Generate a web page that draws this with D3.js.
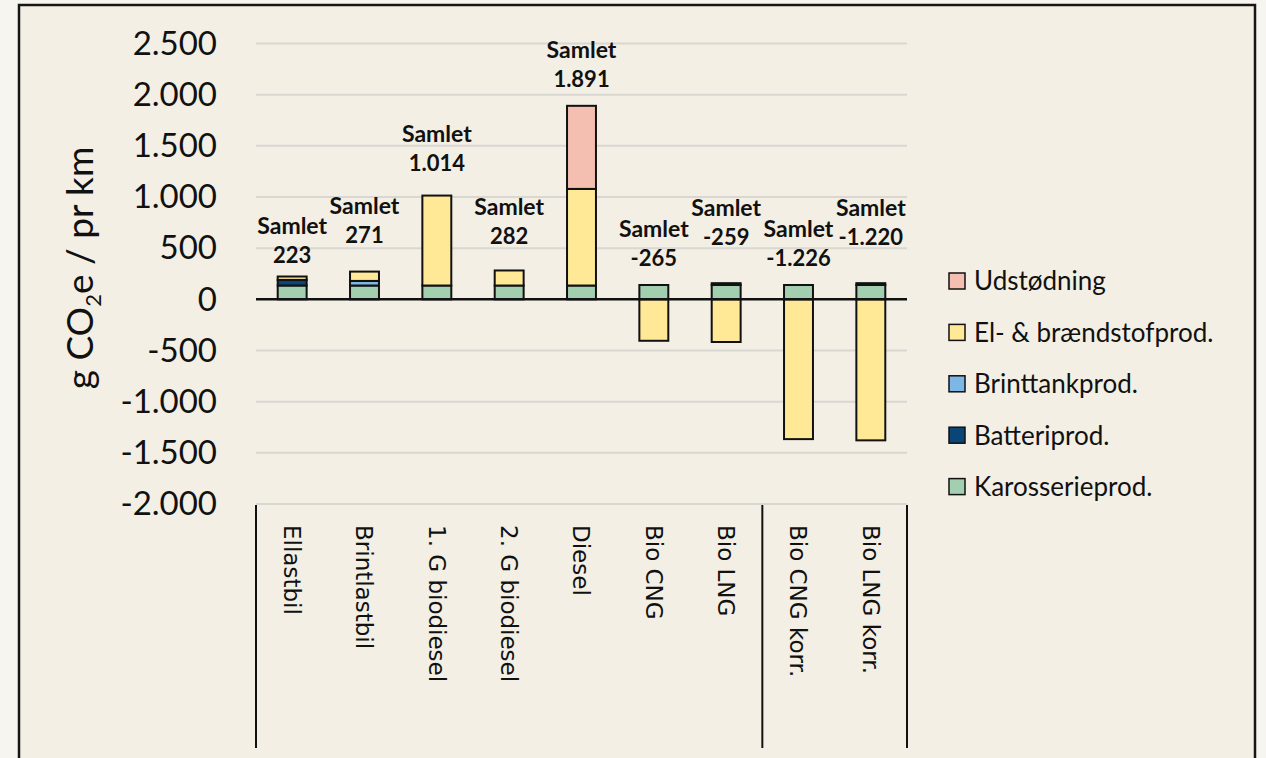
<!DOCTYPE html>
<html>
<head>
<meta charset="utf-8">
<script src="https://cdn.jsdelivr.net/npm/d3@7"></script>
<style>
  html, body { margin: 0; padding: 0; background: #f7f5ef; }
  svg { display: block; }
  text { font-family: Lato, "Open Sans", sans-serif; fill: #111; }
</style>
</head>
<body>
<svg id="chart" width="1266" height="758"></svg>
<script>
// data
var categories = ["Ellastbil", "Brintlastbil", "1. G biodiesel", "2. G biodiesel", "Diesel",
  "Bio CNG", "Bio LNG", "Bio CNG korr.", "Bio LNG korr."];
var karosserie  = [135, 135, 135, 135, 135, 140, 140, 140, 140];
var batteri     = [55, 0, 0, 0, 0, 0, 0, 0, 0];
var brinttank   = [0, 45, 0, 0, 0, 0, 0, 0, 0];
var elBraend    = [33, 91, 879, 147, 944, -405, -417, -1366, -1378];
var udstoedning = [0, 0, 0, 0, 812, 0, 18, 0, 18];
var samlet      = [223, 271, 1014, 282, 1891, -265, -259, -1226, -1220];
var yTicks = [-2000, -1500, -1000, -500, 0, 500, 1000, 1500, 2000, 2500];

var seriesNames = ["Karosserieprod.", "Batteriprod.", "Brinttankprod.", "El- & brændstofprod.", "Udstødning"];
var seriesKeys = ["karosserie", "batteri", "brinttank", "el", "udst"];
var colors = ["#a3cfb1", "#0b4577", "#7cb7e6", "#ffe997", "#f4bfb1"];

// layout
var labelGap = [14, 29, 25, 26, 19, 19, 38, 19, 38]; // px between bar top and value baseline

var rows = categories.map(function(c, i) {
  return {cat: c, karosserie: karosserie[i], batteri: batteri[i], brinttank: brinttank[i],
    el: elBraend[i], udst: udstoedning[i], total: samlet[i]};
});

var svg = d3.select("#chart");
var locale = d3.formatLocale({decimal: ",", thousands: ".", grouping: [3], currency: ["", ""], minus: "-"});
var fmt = locale.format(",d");

// frame
svg.append("rect")
  .attr("x", 19).attr("y", 5)
  .attr("width", 1236).attr("height", 770)
  .attr("fill", "#f3efe5")
  .attr("stroke", "#161616")
  .attr("stroke-width", 2.5);

var x = d3.scaleBand().domain(categories).range([256, 907]).padding(0);
var y = d3.scaleLinear().domain([-2000, 2500]).range([504, 43.5]);
var barW = x.bandwidth() * 0.4;

// gridlines
svg.append("g").selectAll("line.grid")
  .data(yTicks.filter(function(t) { return t !== 0; }))
  .enter().append("line")
  .attr("class", "grid")
  .attr("x1", 256).attr("x2", 907)
  .attr("y1", d => y(d)).attr("y2", d => y(d))
  .attr("stroke", "#d9d7d2")
  .attr("stroke-width", 2);

// y tick labels
svg.append("g").selectAll("text.ytick")
  .data(yTicks)
  .enter().append("text")
  .attr("class", "ytick")
  .attr("x", 217)
  .attr("y", d => y(d))
  .attr("dy", "0.34em")
  .attr("text-anchor", "end")
  .style("font-size", "33px")
  .text(d => fmt(d));

// y title
var yTitle = svg.append("text")
  .attr("transform", "translate(93,268) rotate(-90)")
  .attr("text-anchor", "middle")
  .style("font-size", "37px");
yTitle.append("tspan").text("g CO");
yTitle.append("tspan").attr("dy", 8).style("font-size", "22px").text("2");
yTitle.append("tspan").attr("dy", -8).text("e / pr km");

// stacked bars
var stack = d3.stack().keys(seriesKeys).offset(d3.stackOffsetDiverging);
var series = stack(rows);

var groups = svg.append("g").selectAll("g.series")
  .data(series)
  .enter().append("g")
  .attr("class", "series")
  .attr("fill", (d, i) => colors[i]);

groups.selectAll("rect")
  .data(d => d.filter(s => s[1] - s[0] !== 0))
  .enter().append("rect")
  .attr("x", d => x(d.data.cat) + (x.bandwidth() - barW) / 2)
  .attr("y", d => y(Math.max(d[0], d[1])))
  .attr("width", barW)
  .attr("height", d => Math.abs(y(d[0]) - y(d[1])))
  .attr("stroke", "#111")
  .attr("stroke-width", 2);

// zero line
svg.append("line")
  .attr("x1", 256).attr("x2", 907)
  .attr("y1", y(0)).attr("y2", y(0))
  .attr("stroke", "#111")
  .attr("stroke-width", 2.5);

// total labels
var posTop = rows.map(function(r) {
  return seriesKeys.reduce(function(s, k) { return s + Math.max(0, r[k]); }, 0);
});
var lbl = svg.append("g").selectAll("g.total")
  .data(rows)
  .enter().append("g")
  .attr("class", "total")
  .attr("transform", (d, i) => "translate(" + (x(d.cat) + x.bandwidth() / 2) + "," + (y(posTop[i]) - labelGap[i]) + ")");
lbl.append("text")
  .attr("y", -29)
  .attr("text-anchor", "middle")
  .style("font-size", "23px").style("font-weight", "bold")
  .text("Samlet");
lbl.append("text")
  .attr("text-anchor", "middle")
  .style("font-size", "22px").style("font-weight", "bold")
  .text(d => fmt(d.total));

// category labels
svg.append("g").selectAll("text.cat")
  .data(categories)
  .enter().append("text")
  .attr("class", "cat")
  .attr("transform", d => "translate(" + (x(d) + x.bandwidth() / 2) + ",525) rotate(90)")
  .attr("dy", "0.36em")
  .style("font-family", "'DejaVu Sans', sans-serif")
  .style("font-size", "23px")
  .text(d => d);

// category group separators
var sepCats = [0, 7, 9];
svg.append("g").selectAll("line.sep")
  .data(sepCats)
  .enter().append("line")
  .attr("class", "sep")
  .attr("x1", d => d < categories.length ? x(categories[d]) : x.range()[1])
  .attr("x2", d => d < categories.length ? x(categories[d]) : x.range()[1])
  .attr("y1", 505).attr("y2", 748)
  .attr("stroke", "#111")
  .attr("stroke-width", 2);

// legend (top to bottom reversed)
var legendItems = seriesNames.map((n, i) => ({name: n, color: colors[i]})).reverse();
var leg = svg.append("g").selectAll("g.leg")
  .data(legendItems)
  .enter().append("g")
  .attr("class", "leg")
  .attr("transform", (d, i) => "translate(949," + (273 + i * 51.4) + ")");
leg.append("rect")
  .attr("width", 16).attr("height", 16)
  .attr("fill", d => d.color)
  .attr("stroke", "#111")
  .attr("stroke-width", 1.5);
leg.append("text")
  .attr("x", 25).attr("y", 8)
  .attr("dy", "0.36em")
  .style("font-size", "26px")
  .text(d => d.name);
</script>
</body>
</html>
